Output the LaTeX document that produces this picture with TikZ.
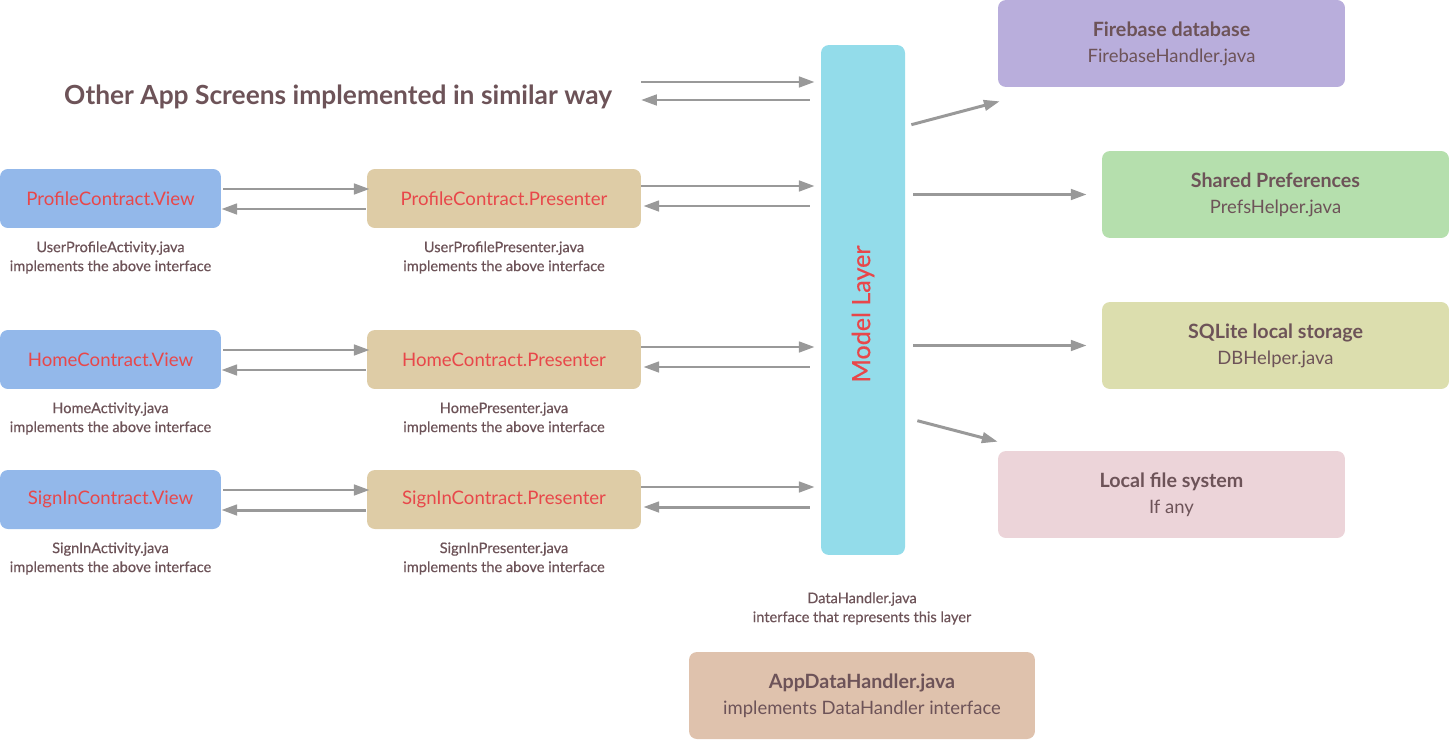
\documentclass[tikz,border=0pt]{standalone}
\usepackage{fontspec}
\setmainfont{Lato}
\newfontfamily\medfont[FakeBold=0.5]{Lato}
\usetikzlibrary{calc,arrows.meta}
\definecolor{viewblue}{HTML}{93B8EA}
\definecolor{presbeige}{HTML}{DECCA6}
\definecolor{modelcyan}{HTML}{93DCEA}
\definecolor{fbpurple}{HTML}{B9AEDC}
\definecolor{spgreen}{HTML}{B5DFAD}
\definecolor{sqlyellow}{HTML}{DCDEAE}
\definecolor{lfpink}{HTML}{ECD4D9}
\definecolor{adhtan}{HTML}{DFC2AD}
\definecolor{txtred}{HTML}{E8474A}
\definecolor{txtbrown}{HTML}{6D5358}
\definecolor{arrgray}{HTML}{999999}
\newcommand{\hdr}[1]{{\bfseries\fontsize{11.2}{14}\selectfont #1}}
\tikzset{
  arr/.style={line width=1.7pt, draw=arrgray, -{Triangle[length=9pt,width=6pt]}},
  box/.style={rounded corners=4.5pt, inner sep=0pt, align=center},
  viewbox/.style={box, fill=viewblue, minimum width=4.42cm, minimum height=1.18cm},
  presbox/.style={box, fill=presbeige, minimum width=5.48cm, minimum height=1.18cm},
  storebox/.style={box, minimum width=6.94cm, minimum height=1.74cm, text=txtbrown, font=\fontsize{10.5}{14.7}\selectfont},
  ifname/.style={font=\fontsize{10.6}{12}\selectfont, text=txtred},
  captxt/.style={font=\medfont\fontsize{8.3}{10.8}\selectfont, text=txtbrown, align=center},
  }

\begin{document}
\begin{tikzpicture}[x=0.02cm, y=0.02cm]
  \useasboundingbox (0,0) rectangle (1449,-740);

  % model layer
  \node[box, fill=modelcyan, minimum width=1.68cm, minimum height=10.2cm] (ml) at (863,-300) {};
  \node[rotate=90, text=txtred, font=\medfont\fontsize{14.3}{16}\selectfont] (mltxt) at ($(ml.center)+(0,-14)$) {Model Layer};
  \node[captxt] (dhcap) at (862,-608.5) {DataHandler.java\\interface that represents this layer};

  % storage boxes
  \node[storebox, fill=fbpurple]  (fb) at (1171.5,-43.5)  {\hdr{Firebase database}\\FirebaseHandler.java};
  \node[storebox, fill=spgreen]   (sp) at (1275.5,-194.5) {\hdr{Shared Preferences}\\PrefsHelper.java};
  \node[storebox, fill=sqlyellow] (sq) at (1275.5,-345.5) {\hdr{SQLite local storage}\\DBHelper.java};
  \node[storebox, fill=lfpink]    (lf) at (1171.5,-494.5) {\hdr{Local file system}\\If any};
  \node[storebox, fill=adhtan, minimum width=6.92cm] (adh) at (862,-695.5) {\hdr{AppDataHandler.java}\\implements DataHandler interface};

  % other screens
  \node[anchor=west, text=txtbrown, font=\bfseries\fontsize{15}{18}\selectfont] (other) at (58,-97) {Other App Screens implemented in similar way};
  \coordinate (oth) at (641,-91);
  \draw[arr] ($(oth)+(0,9)$) -- ($(oth -| ml.west)+(-6,9)$);
  \draw[arr] ($(oth -| ml.west)+(-11,-9)$) -- ($(oth)+(0,-9)$);

  % views and presenters
  \foreach \nm/\vw/\vf/\pf/\y in {1/ProfileContract/UserProfileActivity/UserProfilePresenter/198.5,
                                 2/HomeContract/HomeActivity/HomePresenter/359.5,
                                 3/SignInContract/SignInActivity/SignInPresenter/499.5} {
    \node[viewbox] (pv\nm) at (110.5,-\y) {};
    \node[ifname] at (pv\nm) {\vw.View};
    \node[presbox] (pp\nm) at (504,-\y) {};
    \node[ifname] at (pp\nm) {\vw.Presenter};
    \node[captxt] (cv\nm) at (110.5,-\y-59) {\vf.java\\implements the above interface};
    \node[captxt] (cp\nm) at (504,-\y-59) {\pf.java\\implements the above interface};

    % view <-> presenter
    \draw[arr] ($(pv\nm.east)+(2,9.5)$) -- ($(pp\nm.west)+(3,9.5)$);
    \draw[arr] ($(pp\nm.west)+(-1,-10.5)$) -- ($(pv\nm.east)+(0,-10.5)$);
    % presenter <-> model
    \draw[arr] ($(pp\nm.east)+(0,12.5)$) -- ($(pp\nm.east -| ml.west)+(-6,12.5)$);
    \draw[arr] ($(pp\nm.east -| ml.west)+(-11,-7.5)$) -- ($(pp\nm.east)+(2,-7.5)$);
  }

  % model -> storage
  \draw[arr] ($(ml.north east)+(6,-80)$) -- ($(fb.south west)+(2,-14)$);
  \draw[arr] ($(ml.east |- sp.west)+(8,0)$) -- ($(sp.west)+(-15,0)$);
  \draw[arr] ($(ml.east |- sq.west)+(8,0)$) -- ($(sq.west)+(-15,0)$);
  \draw[arr] ($(ml.north east)+(12,-376)$) -- ($(lf.north west)+(0,9)$);
\end{tikzpicture}
\end{document}
